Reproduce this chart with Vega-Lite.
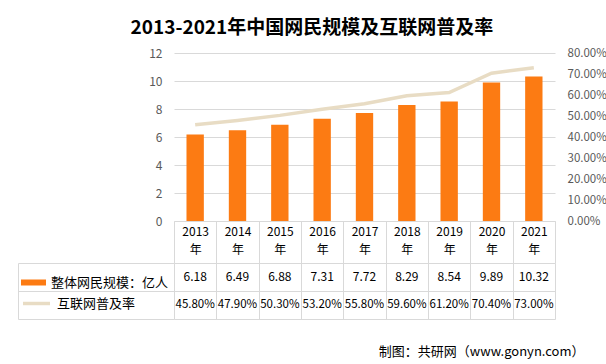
{
  "$schema": "https://vega.github.io/schema/vega-lite/v6.json",
  "padding": {"left": 17, "top": 19, "right": 2, "bottom": 2},
  "background": "white",
  "title": {"text": "2013-2021年中国网民规模及互联网普及率", "fontSize": 19, "font": "Noto Sans CJK SC", "fontWeight": "bold", "color": "#000000", "offset": 9, "anchor": "middle"},
  "config": {"view": {"stroke": null}, "font": "Noto Sans CJK SC", "axis": {"labelFont": "Noto Sans CJK SC"}},
  "data": {"values": [
    {"year": "2013", "scale": 6.18, "rate": 0.458},
    {"year": "2014", "scale": 6.49, "rate": 0.479},
    {"year": "2015", "scale": 6.88, "rate": 0.503},
    {"year": "2016", "scale": 7.31, "rate": 0.532},
    {"year": "2017", "scale": 7.72, "rate": 0.558},
    {"year": "2018", "scale": 8.29, "rate": 0.596},
    {"year": "2019", "scale": 8.54, "rate": 0.612},
    {"year": "2020", "scale": 9.89, "rate": 0.704},
    {"year": "2021", "scale": 10.32, "rate": 0.73}
  ]},
  "bounds": "flush",
  "spacing": 42,
  "vconcat": [
    {
      "width": 381,
      "height": 168,
      "layer": [
        {
          "mark": {"type": "bar", "width": {"band": 0.41}},
          "encoding": {
            "x": {"field": "year", "type": "nominal", "sort": null,
              "scale": {"paddingInner": 0, "paddingOuter": 0},
              "axis": {"title": null, "orient": "bottom", "domain": true, "domainColor": "#d9d9d9", "ticks": true, "tickBand": "extent", "tickSize": 42, "tickColor": "#d9d9d9", "labelAngle": 0, "labelExpr": "length(datum.label) > 0 ? [datum.label, '年'] : ''", "labelPadding": -37, "labelFontSize": 12, "labelColor": "#000000", "labelLineHeight": 18, "labelFont": "Noto Sans CJK SC"}},
            "y": {"field": "scale", "type": "quantitative", "scale": {"domain": [0, 12]},
              "axis": {"title": null, "values": [0, 2, 4, 6, 8, 10, 12], "grid": true, "gridColor": "#d9d9d9", "domain": false, "ticks": false, "labelPadding": 12, "labelColor": "#595959", "labelFontSize": 12}},
            "color": {"datum": "整体网民规模：亿人", "type": "nominal", "scale": {"range": ["#FC7B13"]},
              "legend": {"orient": "none", "legendX": -153, "legendY": 217, "title": null, "symbolType": "M-1,-0.24H1V0.24H-1Z", "symbolSize": 625, "symbolStrokeWidth": 0, "symbolOpacity": 1, "labelFontSize": 13, "labelColor": "#000000", "labelFont": "Noto Sans CJK SC", "padding": 0, "labelOffset": 5}}
          }
        },
        {
          "mark": {"type": "line", "strokeWidth": 3.5},
          "encoding": {
            "x": {"field": "year", "type": "nominal", "sort": null},
            "y": {"field": "rate", "type": "quantitative", "scale": {"domain": [0, 0.8]},
              "axis": {"orient": "right", "title": null, "values": [0, 0.1, 0.2, 0.3, 0.4, 0.5, 0.6, 0.7, 0.8], "format": ".2%", "grid": false, "domain": false, "ticks": false, "labelPadding": 12, "labelColor": "#595959", "labelFontSize": 11.5}},
            "color": {"datum": "互联网普及率", "type": "nominal", "scale": {"range": ["#E8DCC4"]},
              "legend": {"orient": "none", "legendX": -153, "legendY": 235, "title": null, "symbolType": "stroke", "symbolSize": 729, "symbolStrokeWidth": 3.5, "symbolOpacity": 1, "labelFontSize": 13, "labelColor": "#000000", "labelFont": "Noto Sans CJK SC", "padding": 0, "labelOffset": 5}}
          }
        }
      ],
      "resolve": {"scale": {"y": "independent", "color": "independent"}}
    },
    {
      "width": 381,
      "height": 56,
      "layer": [
        {
          "mark": {"type": "text", "fontSize": 12, "color": "#000000", "font": "Noto Sans CJK SC"},
          "encoding": {
            "x": {"field": "year", "type": "nominal", "sort": null,
              "scale": {"paddingInner": 0, "paddingOuter": 0},
              "axis": {"title": "制图：共研网（www.gonyn.com）", "labels": false, "ticks": false, "domain": false, "grid": true, "gridColor": "#d9d9d9", "tickBand": "extent", "titleFontSize": 13, "titleFontWeight": "normal", "titleColor": "#000000", "titleFont": "Noto Sans CJK SC", "titleAnchor": "end", "titleAlign": "right", "titleX": 410, "titleY": 32, "titleBaseline": "middle"}},
            "y": {"datum": "r1", "type": "nominal",
              "scale": {"domain": ["r1", "r2"], "paddingInner": 0, "paddingOuter": 0},
              "axis": {"title": null, "orient": "left", "offset": 156, "labels": false, "domain": true, "domainColor": "#d9d9d9", "ticks": true, "tickSize": -156, "tickColor": "#d9d9d9", "tickBand": "extent", "grid": true, "gridColor": "#d9d9d9"}},
            "text": {"field": "scale", "type": "quantitative", "format": ".2f"}
          }
        },
        {
          "mark": {"type": "text", "fontSize": 11.5, "color": "#000000", "font": "Noto Sans CJK SC"},
          "encoding": {
            "x": {"field": "year", "type": "nominal", "sort": null},
            "y": {"datum": "r2", "type": "nominal"},
            "text": {"field": "rate", "type": "quantitative", "format": ".2%"}
          }
        }
      ]
    }
  ]
}
